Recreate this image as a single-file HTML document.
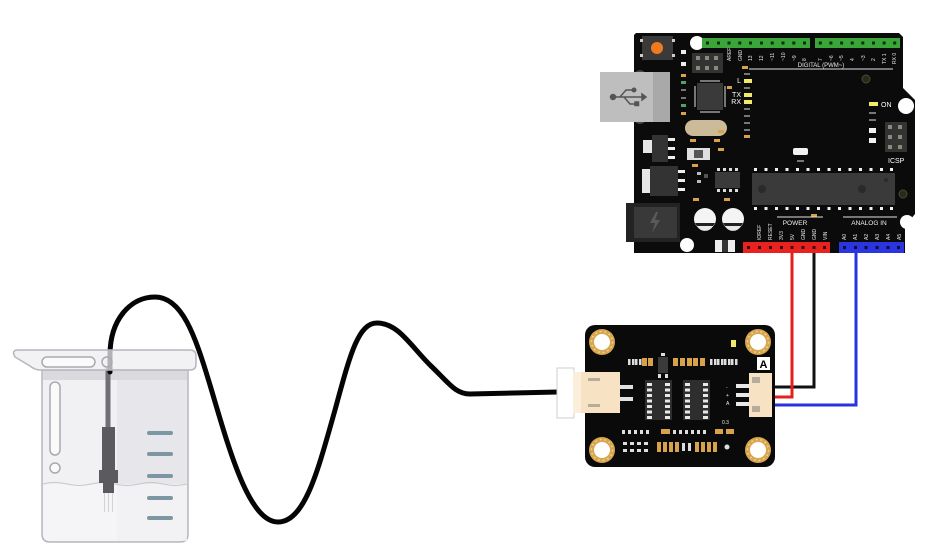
<!DOCTYPE html>
<html>
<head>
<meta charset="utf-8">
<style>
  html,body{margin:0;padding:0;background:#ffffff;}
  svg{display:block;}
  text{font-family:"Liberation Sans",sans-serif;}
</style>
</head>
<body>
<svg width="929" height="559" viewBox="0 0 929 559" xmlns="http://www.w3.org/2000/svg">
  <rect x="0" y="0" width="929" height="559" fill="#ffffff"/>

  <!-- ================= BEAKER ================= -->
  <path d="M42,370 L42,534 Q42,542 50,542 L180,542 Q188,542 188,534 L188,370 Z" fill="#f1f1f4" stroke="#b5b5bd" stroke-width="1.5"/>
  <rect x="117" y="380" width="70" height="161" fill="#e7e7eb"/>
  <path d="M43,484 L187,484 L187,534 Q187,541 180,541 L50,541 Q43,541 43,534 Z" fill="#f7f7f9" opacity="0.7"/>
  <rect x="43" y="370" width="144" height="10" fill="#d9d9de"/>
  <path d="M43,484 q12,-3 24,0 t24,0 t24,0 t24,0 t24,0 t24,0" fill="none" stroke="#c6c6cc" stroke-width="1"/>
  <rect x="50" y="382" width="10" height="73" rx="5" fill="#fafafa" stroke="#a9a9b1" stroke-width="1.5"/>
  <circle cx="55" cy="468" r="5" fill="#fafafa" stroke="#a9a9b1" stroke-width="1.5"/>
  <g fill="#7b97a3">
    <rect x="147" y="431" width="26" height="4" rx="2"/>
    <rect x="147" y="452" width="26" height="4" rx="2"/>
    <rect x="147" y="474" width="26" height="4" rx="2"/>
    <rect x="147" y="496" width="26" height="4" rx="2"/>
    <rect x="147" y="516" width="26" height="4" rx="2"/>
  </g>
  <!-- probe inside -->
  <line x1="108" y1="368" x2="108" y2="430" stroke="#6f6f75" stroke-width="5"/>
  <rect x="102" y="427" width="13" height="44" fill="#5a5a5f"/>
  <rect x="99" y="470" width="19" height="13" fill="#5a5a5f"/>
  <rect x="103" y="483" width="11" height="10" fill="#5a5a5f"/>
  <g stroke="#d2d2d6" stroke-width="1">
    <line x1="104.5" y1="493" x2="104.5" y2="512"/>
    <line x1="108.5" y1="493" x2="108.5" y2="512"/>
    <line x1="112.5" y1="493" x2="112.5" y2="512"/>
  </g>

  <!-- black probe cable -->
  <path d="M110,372 L110,355 C110,320 130,297 155,297 C182,297 195,335 210,385 C228,445 248,522 278,522 C305,522 318,470 335,410 C350,355 358,323 377,323 C398,323 410,345 430,365 C448,382 455,394 470,394 L558,392"
        fill="none" stroke="#050505" stroke-width="5" stroke-linecap="round" stroke-linejoin="round"/>

  <!-- beaker rim (translucent over cable) -->
  <path d="M18,350 L190,350 Q196,350 196,356 L196,364 Q196,370 190,370 L40,370 Q35,370 30,366 L15,357 Q11,350 18,350 Z" fill="#ededf1" fill-opacity="0.75" stroke="#b5b5bd" stroke-width="1.5"/>
  <rect x="42" y="357" width="53" height="10" rx="5" fill="#fafafa" stroke="#a9a9b1" stroke-width="1.5"/>
  <circle cx="107" cy="362" r="5" fill="none" stroke="#a9a9b1" stroke-width="1.5"/>

  <!-- ================= WIRES ================= -->
  <path d="M814,250 L814,387 L772,387" fill="none" stroke="#111111" stroke-width="3"/>
  <path d="M792,250 L792,397 L772,397" fill="none" stroke="#e4201c" stroke-width="3"/>
  <path d="M856,250 L856,405 L772,405" fill="none" stroke="#2a31e0" stroke-width="3"/>

  <!-- ================= ARDUINO ================= -->
  <path d="M636,33 L899,33 L903,37 L903,88 L915,100 L915,214 L905,226 L905,253 L634,253 L634,35 Z" fill="#0b0b0b"/>

  <!-- mounting holes -->
  <circle cx="697" cy="43" r="7" fill="#ffffff"/>
  <circle cx="906" cy="106" r="8" fill="#ffffff"/>
  <circle cx="907" cy="222" r="7" fill="#ffffff"/>
  <circle cx="687" cy="245" r="7" fill="#ffffff"/>
  <circle cx="866" cy="79" r="4" fill="#2a2a1a" stroke="#4a4a30" stroke-width="1"/>
  <circle cx="903" cy="194" r="4" fill="#2a2a1a" stroke="#4a4a30" stroke-width="1"/>

  <!-- reset button -->
  <rect x="642" y="36" width="31" height="24" fill="#3a3a3a"/>
  <circle cx="657" cy="48" r="6" fill="#f07a1e"/>
  <rect x="640" y="39" width="3" height="3" fill="#ccc"/>
  <rect x="640" y="54" width="3" height="3" fill="#ccc"/>
  <rect x="672" y="39" width="3" height="3" fill="#ccc"/>
  <rect x="672" y="54" width="3" height="3" fill="#ccc"/>

  <!-- USB -->
  <circle cx="640" cy="76" r="6" fill="#444"/>
  <circle cx="640" cy="118" r="6" fill="#444"/>
  <rect x="600" y="72" width="70" height="50" fill="#bebebe"/>
  <rect x="653" y="72" width="17" height="50" fill="#a9a9a9"/>
  <g stroke="#555" stroke-width="1.5" fill="#555">
    <line x1="613" y1="97" x2="642" y2="97"/>
    <circle cx="613" cy="97" r="2.5"/>
    <path d="M620,97 L626,90 L633,90" fill="none"/>
    <path d="M624,97 L630,104 L636,104" fill="none"/>
    <circle cx="634" cy="90" r="1.8"/>
    <rect x="635" y="102" width="3.5" height="3.5"/>
    <path d="M642,94 L646,97 L642,100 Z"/>
  </g>

  <!-- ICSP left -->
  <rect x="692" y="53" width="31" height="20" fill="#333"/>
  <g fill="#8a8a7a">
    <rect x="696" y="56" width="4" height="4"/><rect x="705" y="56" width="4" height="4"/><rect x="714" y="56" width="4" height="4"/>
    <rect x="696" y="66" width="4" height="4"/><rect x="705" y="66" width="4" height="4"/><rect x="714" y="66" width="4" height="4"/>
  </g>

  <!-- small parts left column -->
  <rect x="681" y="50" width="5" height="4" fill="#eeeeee"/>
  <rect x="681" y="62" width="5" height="4" fill="#eeeeee"/>
  <rect x="681" y="74" width="5" height="3" fill="#d9a24a"/>
  <rect x="681" y="81" width="5" height="3" fill="#4fa36a"/>
  <rect x="681" y="89" width="5" height="2" fill="#777"/>
  <rect x="681" y="97" width="5" height="2" fill="#777"/>
  <rect x="681" y="104" width="5" height="3" fill="#4fa36a"/>
  <rect x="681" y="112" width="5" height="3" fill="#d9a24a"/>

  <!-- ATmega16U2 -->
  <rect x="697" y="83" width="26" height="27" fill="#3a3a3a"/>
  <g fill="#777">
    <rect x="700" y="80" width="20" height="2"/><rect x="700" y="111" width="20" height="2"/>
    <rect x="694" y="86" width="2" height="21"/><rect x="724" y="86" width="2" height="21"/>
  </g>
  <rect x="727" y="86" width="5" height="3" fill="#d9a24a"/>

  <!-- crystal -->
  <rect x="685" y="120" width="42" height="16" rx="8" fill="#cbbb98"/>
  <rect x="690" y="139" width="6" height="3" fill="#d9a24a"/>
  <rect x="714" y="139" width="6" height="3" fill="#d9a24a"/>
  <rect x="718" y="130" width="6" height="3" fill="#d9a24a"/>
  <rect x="718" y="148" width="6" height="3" fill="#d9a24a"/>

  <!-- L TX RX LEDs -->
  <rect x="742" y="66" width="6" height="3" fill="#d9a24a"/>
  <text x="741" y="83" font-size="7" fill="#fff" text-anchor="end">L</text>
  <text x="741" y="97" font-size="7" fill="#fff" text-anchor="end">TX</text>
  <text x="741" y="104" font-size="7" fill="#fff" text-anchor="end">RX</text>
  <rect x="744" y="79" width="8" height="4" fill="#f2e86a"/>
  <rect x="744" y="93" width="8" height="4" fill="#f2e86a"/>
  <rect x="744" y="100" width="8" height="4" fill="#f2e86a"/>
  <g fill="#777">
    <rect x="744" y="73" width="6" height="2"/><rect x="744" y="87" width="6" height="2"/>
    <rect x="744" y="108" width="6" height="2"/><rect x="744" y="115" width="6" height="2"/>
    <rect x="744" y="122" width="6" height="2"/><rect x="744" y="129" width="6" height="2"/>
  </g>
  <rect x="744" y="135" width="6" height="3" fill="#d9a24a"/>

  <!-- digital headers -->
  <rect x="702" y="38" width="108" height="10" fill="#3aa63a"/>
  <rect x="815" y="38" width="85" height="10" fill="#3aa63a"/>
  <g fill="#0e2a0e">
    <rect x="706" y="41.5" width="3" height="3"/><rect x="717" y="41.5" width="3" height="3"/><rect x="727.5" y="41.5" width="3" height="3"/><rect x="738.3" y="41.5" width="3" height="3"/><rect x="749" y="41.5" width="3" height="3"/><rect x="760" y="41.5" width="3" height="3"/><rect x="770.7" y="41.5" width="3" height="3"/><rect x="781.5" y="41.5" width="3" height="3"/><rect x="792.3" y="41.5" width="3" height="3"/><rect x="803" y="41.5" width="3" height="3"/>
    <rect x="818.8" y="41.5" width="3" height="3"/><rect x="829.4" y="41.5" width="3" height="3"/><rect x="840.1" y="41.5" width="3" height="3"/><rect x="850.7" y="41.5" width="3" height="3"/><rect x="861.3" y="41.5" width="3" height="3"/><rect x="872" y="41.5" width="3" height="3"/><rect x="882.6" y="41.5" width="3" height="3"/><rect x="893.2" y="41.5" width="3" height="3"/>
  </g>
  <g font-size="5" fill="#e8e8e8">
    <text transform="translate(731,61) rotate(-90)">AREF</text>
    <text transform="translate(742,61) rotate(-90)">GND</text>
    <text transform="translate(752,61) rotate(-90)">13</text>
    <text transform="translate(763,61) rotate(-90)">12</text>
    <text transform="translate(774,61) rotate(-90)">~11</text>
    <text transform="translate(785,61) rotate(-90)">~10</text>
    <text transform="translate(796,61) rotate(-90)">~9</text>
    <text transform="translate(806,61) rotate(-90)">8</text>
    <text transform="translate(822,61) rotate(-90)">7</text>
    <text transform="translate(833,61) rotate(-90)">~6</text>
    <text transform="translate(843,61) rotate(-90)">~5</text>
    <text transform="translate(854,61) rotate(-90)">4</text>
    <text transform="translate(865,61) rotate(-90)">~3</text>
    <text transform="translate(875,61) rotate(-90)">2</text>
    <text transform="translate(886,64) rotate(-90)">TX 1</text>
    <text transform="translate(896,64) rotate(-90)">RX 0</text>
  </g>
  <line x1="749" y1="69" x2="893" y2="69" stroke="#e0e0e0" stroke-width="1"/>
  <text x="821" y="67" font-size="6" fill="#e8e8e8" text-anchor="middle">DIGITAL (PWM~)</text>

  <!-- ON LED -->
  <rect x="869" y="102" width="9" height="4" fill="#f2e86a"/>
  <text x="881" y="107" font-size="7" fill="#fff">ON</text>
  <rect x="869" y="112" width="7" height="2" fill="#777"/>
  <rect x="869" y="119" width="7" height="2" fill="#777"/>
  <rect x="869" y="128" width="7" height="5" fill="#f2f2f2"/>
  <rect x="869" y="138" width="7" height="5" fill="#f2f2f2"/>

  <!-- ICSP right -->
  <rect x="885" y="122" width="22" height="30" fill="#333"/>
  <g fill="#8a8a7a">
    <rect x="888" y="125" width="4" height="4"/><rect x="898" y="125" width="4" height="4"/>
    <rect x="888" y="135" width="4" height="4"/><rect x="898" y="135" width="4" height="4"/>
    <rect x="888" y="145" width="4" height="4"/><rect x="898" y="145" width="4" height="4"/>
  </g>
  <text x="888" y="163" font-size="7" fill="#fff">ICSP</text>

  <!-- small white component -->
  <rect x="793" y="148" width="15" height="7" rx="2" fill="#f2f2f2"/>
  <rect x="797" y="160" width="7" height="2" fill="#777"/>

  <!-- regulators -->
  <rect x="643" y="140" width="9" height="13" fill="#e6e6e6"/>
  <rect x="652" y="135" width="16" height="27" fill="#333"/>
  <rect x="668" y="138" width="7" height="3" fill="#eee"/>
  <rect x="668" y="147" width="7" height="3" fill="#eee"/>
  <rect x="668" y="156" width="7" height="3" fill="#eee"/>
  <rect x="642" y="169" width="8" height="24" fill="#e6e6e6"/>
  <rect x="650" y="166" width="28" height="30" fill="#333"/>
  <rect x="678" y="170" width="7" height="3" fill="#eee"/>
  <rect x="678" y="179" width="7" height="3" fill="#eee"/>
  <rect x="678" y="188" width="7" height="3" fill="#eee"/>

  <!-- white component -->
  <rect x="687" y="148" width="23" height="12" fill="#e0e0e0"/>
  <rect x="694" y="150" width="9" height="8" fill="#555"/>
  <rect x="692" y="164" width="6" height="3" fill="#d9a24a"/>
  <rect x="697" y="172" width="4" height="3" fill="#bbb"/>
  <rect x="697" y="180" width="4" height="3" fill="#bbb"/>
  <rect x="704" y="174" width="4" height="4" fill="#555"/>
  <rect x="693" y="198" width="6" height="3" fill="#d9a24a"/>
  <rect x="724" y="198" width="6" height="3" fill="#d9a24a"/>

  <!-- 8-pin chip -->
  <rect x="715" y="172" width="25" height="16" fill="#3a3a3a"/>
  <g fill="#ddd">
    <rect x="717" y="168" width="3" height="3"/><rect x="723" y="168" width="3" height="3"/><rect x="729" y="168" width="3" height="3"/><rect x="735" y="168" width="3" height="3"/>
    <rect x="717" y="189" width="3" height="3"/><rect x="723" y="189" width="3" height="3"/><rect x="729" y="189" width="3" height="3"/><rect x="735" y="189" width="3" height="3"/>
  </g>

  <!-- power jack -->
  <rect x="626" y="203" width="54" height="39" fill="#232323"/>
  <rect x="634" y="207" width="43" height="31" fill="#393939"/>
  <path d="M656,212 L650,223 L655,223 L652,233 L660,220 L655,220 L658,212 Z" fill="#5a5a5a"/>

  <!-- capacitors -->
  <circle cx="705" cy="219" r="11" fill="#f4f4f4"/>
  <circle cx="733" cy="219" r="11" fill="#f4f4f4"/>
  <path d="M695,223 L715,223 A11,11 0 0 1 695,223 Z" fill="#222"/>
  <path d="M723,223 L743,223 A11,11 0 0 1 723,223 Z" fill="#222"/>
  <path d="M697,226 L713,226 A9,9 0 0 1 697,226 Z" fill="#e8e8e8"/>
  <path d="M725,226 L741,226 A9,9 0 0 1 725,226 Z" fill="#e8e8e8"/>

  <!-- bottom white part -->
  <rect x="715" y="240" width="20" height="12" fill="#eeeeee"/>
  <rect x="722" y="240" width="6" height="12" fill="#333"/>

  <!-- big chip -->
  <rect x="752" y="173" width="143" height="32" fill="#3a3a3a"/>
  <circle cx="762" cy="189" r="4" fill="#2a2a2a"/>
  <circle cx="862" cy="189" r="4" fill="#2a2a2a"/>
  <circle cx="886" cy="180" r="2" fill="#2a2a2a"/>
  <g fill="#f0f0f0">
    <rect x="754" y="168" width="3" height="3"/><rect x="764.5" y="168" width="3" height="3"/><rect x="775" y="168" width="3" height="3"/><rect x="785.5" y="168" width="3" height="3"/><rect x="796" y="168" width="3" height="3"/><rect x="806.5" y="168" width="3" height="3"/><rect x="817" y="168" width="3" height="3"/><rect x="827.5" y="168" width="3" height="3"/><rect x="838" y="168" width="3" height="3"/><rect x="848.5" y="168" width="3" height="3"/><rect x="859" y="168" width="3" height="3"/><rect x="869.5" y="168" width="3" height="3"/><rect x="880" y="168" width="3" height="3"/><rect x="890" y="168" width="3" height="3"/>
    <rect x="754" y="207" width="3" height="3"/><rect x="764.5" y="207" width="3" height="3"/><rect x="775" y="207" width="3" height="3"/><rect x="785.5" y="207" width="3" height="3"/><rect x="796" y="207" width="3" height="3"/><rect x="806.5" y="207" width="3" height="3"/><rect x="817" y="207" width="3" height="3"/><rect x="827.5" y="207" width="3" height="3"/><rect x="838" y="207" width="3" height="3"/><rect x="848.5" y="207" width="3" height="3"/><rect x="859" y="207" width="3" height="3"/><rect x="869.5" y="207" width="3" height="3"/><rect x="880" y="207" width="3" height="3"/><rect x="890" y="207" width="3" height="3"/>
  </g>

  <!-- power / analog labels -->
  <rect x="811" y="214" width="6" height="3" fill="#d9a24a"/>
  <line x1="777" y1="217" x2="823" y2="217" stroke="#e0e0e0" stroke-width="1"/>
  <line x1="843" y1="217" x2="897" y2="217" stroke="#e0e0e0" stroke-width="1"/>
  <text x="795" y="225" font-size="6.5" fill="#f0f0f0" text-anchor="middle">POWER</text>
  <text x="869" y="225" font-size="6.5" fill="#f0f0f0" text-anchor="middle">ANALOG IN</text>
  <g font-size="5" fill="#e8e8e8">
    <text transform="translate(761,240) rotate(-90)">IOREF</text>
    <text transform="translate(772,240) rotate(-90)">RESET</text>
    <text transform="translate(783,240) rotate(-90)">3V3</text>
    <text transform="translate(794,240) rotate(-90)">5V</text>
    <text transform="translate(805,240) rotate(-90)">GND</text>
    <text transform="translate(816,240) rotate(-90)">GND</text>
    <text transform="translate(827,240) rotate(-90)">VIN</text>
    <text transform="translate(846,240) rotate(-90)">A0</text>
    <text transform="translate(857,240) rotate(-90)">A1</text>
    <text transform="translate(868,240) rotate(-90)">A2</text>
    <text transform="translate(879,240) rotate(-90)">A3</text>
    <text transform="translate(890,240) rotate(-90)">A4</text>
    <text transform="translate(901,240) rotate(-90)">A5</text>
  </g>

  <!-- power header -->
  <rect x="743" y="242" width="87" height="11" fill="#e8231f"/>
  <rect x="839" y="242" width="65" height="11" fill="#2a35e0"/>
  <g fill="#3a0808">
    <rect x="747" y="246" width="3" height="3"/><rect x="758" y="246" width="3" height="3"/><rect x="769" y="246" width="3" height="3"/><rect x="780" y="246" width="3" height="3"/><rect x="790.5" y="246" width="3" height="3"/><rect x="801.5" y="246" width="3" height="3"/><rect x="812.5" y="246" width="3" height="3"/><rect x="823" y="246" width="3" height="3"/>
  </g>
  <g fill="#0a0c3a">
    <rect x="843" y="246" width="3" height="3"/><rect x="854" y="246" width="3" height="3"/><rect x="864.5" y="246" width="3" height="3"/><rect x="875.5" y="246" width="3" height="3"/><rect x="886.5" y="246" width="3" height="3"/><rect x="897" y="246" width="3" height="3"/>
  </g>

  <!-- ================= SENSOR BOARD ================= -->
  <rect x="585" y="325" width="190" height="142" rx="10" fill="#0a0a0a"/>
  <g>
    <circle cx="602" cy="342" r="13" fill="#d9a650"/>
    <circle cx="758" cy="342" r="13" fill="#d9a650"/>
    <circle cx="602" cy="450" r="13" fill="#d9a650"/>
    <circle cx="758" cy="450" r="13" fill="#d9a650"/>
    <g fill="none" stroke="#f3dca8" stroke-width="1.3" stroke-dasharray="1.5 3.2">
      <circle cx="602" cy="342" r="10.5"/><circle cx="758" cy="342" r="10.5"/>
      <circle cx="602" cy="450" r="10.5"/><circle cx="758" cy="450" r="10.5"/>
    </g>
    <circle cx="602" cy="342" r="8" fill="#ffffff"/>
    <circle cx="758" cy="342" r="8" fill="#ffffff"/>
    <circle cx="602" cy="450" r="8" fill="#ffffff"/>
    <circle cx="758" cy="450" r="8" fill="#ffffff"/>
  </g>

  <!-- yellow LED -->
  <rect x="731" y="340" width="5" height="7" fill="#f2e86a"/>

  <!-- A label -->
  <rect x="757" y="357" width="13" height="13" fill="#ffffff"/>
  <text x="763.5" y="368" font-size="11" font-weight="bold" fill="#000" text-anchor="middle">A</text>

  <!-- top row parts -->
  <g fill="#dddddd">
    <rect x="628" y="359" width="2.5" height="6"/><rect x="632" y="359" width="2.5" height="6"/>
    <rect x="635" y="359" width="2.5" height="6"/><rect x="639" y="359" width="2.5" height="6"/>
    <rect x="710" y="359" width="2.5" height="6"/><rect x="714" y="359" width="2.5" height="6"/>
    <rect x="717" y="359" width="2.5" height="6"/><rect x="721" y="359" width="2.5" height="6"/>
    <rect x="724" y="359" width="2.5" height="6"/><rect x="728" y="359" width="2.5" height="6"/>
    <rect x="731" y="359" width="2.5" height="6"/><rect x="735" y="359" width="2.5" height="6"/>
  </g>
  <g fill="#d8a24a">
    <rect x="642" y="358" width="5" height="8"/><rect x="648" y="358" width="5" height="8"/>
    <rect x="673" y="358" width="5" height="8"/><rect x="680" y="358" width="5" height="8"/>
    <rect x="687" y="358" width="5" height="8"/><rect x="693" y="358" width="5" height="8"/>
    <rect x="700" y="358" width="5" height="8"/>
    <rect x="662" y="384" width="5" height="3"/>
  </g>
  <!-- transistor -->
  <rect x="658" y="357" width="10" height="16" fill="#3a3a3a"/>
  <g fill="#dddddd">
    <rect x="661" y="353" width="4" height="3"/>
    <rect x="658" y="374" width="3" height="4"/><rect x="665" y="374" width="3" height="4"/>
  </g>

  <!-- chips -->
  <rect x="645" y="380" width="27" height="40" fill="#2e2e2e"/>
  <rect x="683" y="380" width="27" height="40" fill="#2e2e2e"/>
  <g fill="#e8e8e8">
    <rect x="647" y="383" width="5" height="3"/><rect x="647" y="388.5" width="5" height="3"/><rect x="647" y="394" width="5" height="3"/><rect x="647" y="399.5" width="5" height="3"/><rect x="647" y="405" width="5" height="3"/><rect x="647" y="410.5" width="5" height="3"/><rect x="647" y="416" width="5" height="3"/>
    <rect x="665" y="383" width="5" height="3"/><rect x="665" y="388.5" width="5" height="3"/><rect x="665" y="394" width="5" height="3"/><rect x="665" y="399.5" width="5" height="3"/><rect x="665" y="405" width="5" height="3"/><rect x="665" y="410.5" width="5" height="3"/><rect x="665" y="416" width="5" height="3"/>
    <rect x="685" y="383" width="5" height="3"/><rect x="685" y="388.5" width="5" height="3"/><rect x="685" y="394" width="5" height="3"/><rect x="685" y="399.5" width="5" height="3"/><rect x="685" y="405" width="5" height="3"/><rect x="685" y="410.5" width="5" height="3"/><rect x="685" y="416" width="5" height="3"/>
    <rect x="703" y="383" width="5" height="3"/><rect x="703" y="388.5" width="5" height="3"/><rect x="703" y="394" width="5" height="3"/><rect x="703" y="399.5" width="5" height="3"/><rect x="703" y="405" width="5" height="3"/><rect x="703" y="410.5" width="5" height="3"/><rect x="703" y="416" width="5" height="3"/>
  </g>
  <g font-size="5" fill="#e8e8e8">
    <text x="726" y="389">-</text>
    <text x="726" y="397">+</text>
    <text x="726" y="405">A</text>
    <text x="722" y="424">0.3</text>
  </g>

  <!-- bottom rows -->
  <g fill="#dddddd">
    <rect x="622" y="430" width="3" height="4"/><rect x="628" y="430" width="3" height="4"/><rect x="634" y="430" width="3" height="4"/><rect x="640" y="430" width="3" height="4"/><rect x="646" y="430" width="3" height="4"/>
    <rect x="673" y="430" width="3" height="4"/><rect x="679" y="430" width="3" height="4"/><rect x="685" y="430" width="3" height="4"/><rect x="691" y="430" width="3" height="4"/><rect x="697" y="430" width="3" height="4"/><rect x="703" y="430" width="3" height="4"/>
    <rect x="623" y="442" width="4" height="3"/><rect x="630" y="442" width="4" height="3"/><rect x="637" y="442" width="4" height="3"/><rect x="644" y="442" width="4" height="3"/>
    <rect x="623" y="449" width="4" height="3"/><rect x="630" y="449" width="4" height="3"/><rect x="637" y="449" width="4" height="3"/><rect x="644" y="449" width="4" height="3"/>
    <rect x="682" y="443" width="3" height="8"/><rect x="688" y="443" width="3" height="8"/>
    <circle cx="727" cy="447" r="2.5"/>
  </g>
  <g fill="#d8a24a">
    <rect x="661" y="429" width="9" height="5"/>
    <rect x="715" y="429" width="8" height="5"/><rect x="726" y="429" width="8" height="5"/>
    <rect x="657" y="442" width="4" height="10"/><rect x="663" y="442" width="4" height="10"/><rect x="669" y="442" width="4" height="10"/><rect x="675" y="442" width="4" height="10"/>
    <rect x="695" y="442" width="4" height="10"/><rect x="701" y="442" width="4" height="10"/><rect x="707" y="442" width="4" height="10"/><rect x="713" y="442" width="4" height="10"/>
  </g>

  <!-- left connector (probe plug) -->
  <rect x="557" y="368" width="17" height="50" fill="#ffffff" stroke="#cfcfcf" stroke-width="1"/>
  <rect x="573" y="372" width="47" height="41" fill="#f7e3c4"/>
  <rect x="573" y="372" width="8" height="41" fill="#fbefdc"/>
  <rect x="588" y="378" width="12" height="3" fill="#b7ab9a"/>
  <rect x="588" y="404" width="12" height="3" fill="#b7ab9a"/>
  <rect x="620" y="385" width="13" height="4" fill="#e0e0e0"/>
  <rect x="620" y="397" width="13" height="4" fill="#e0e0e0"/>

  <!-- right connector -->
  <rect x="736" y="384" width="15" height="4" fill="#e8e8e8"/>
  <rect x="736" y="393" width="15" height="4" fill="#e8e8e8"/>
  <rect x="736" y="402" width="15" height="4" fill="#e8e8e8"/>
  <rect x="749" y="373" width="23" height="44" fill="#f7e3c4"/>
  <rect x="752" y="377" width="8" height="6" fill="#b7ab9a"/>
  <rect x="752" y="406" width="8" height="6" fill="#b7ab9a"/>
</svg>
</body>
</html>
